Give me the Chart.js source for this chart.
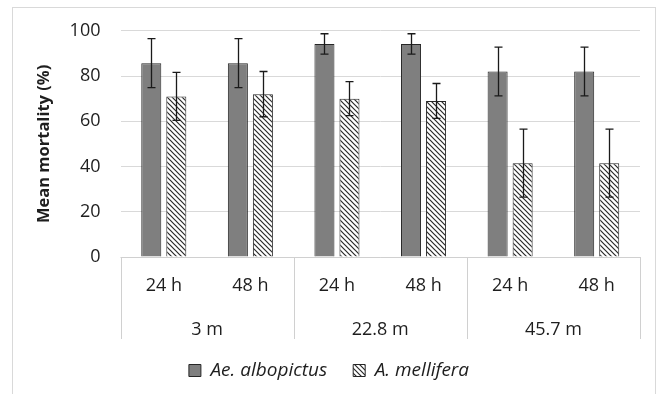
<!DOCTYPE html>
<html>
<head>
<meta charset="utf-8">
<script src="https://cdn.jsdelivr.net/npm/chart.js@4.4.1/dist/chart.umd.min.js"></script>
<style>
  html, body { margin: 0; padding: 0; background: #fff; width: 659px; height: 394px; overflow: hidden; }
  #frame { position: absolute; left: 12px; top: 7px; width: 644px; height: 420px; border: 1px solid #d9d9d9; box-sizing: border-box; }
  #c { position: absolute; left: 0; top: 0; }
</style>
</head>
<body>
<div id="frame"></div>
<canvas id="c" width="659" height="394"></canvas>
<script>
const categories = ['24 h', '48 h', '24 h', '48 h', '24 h', '48 h'];
const groups = ['3 m', '22.8 m', '45.7 m'];
const seriesNames = ['Ae. albopictus', 'A. mellifera'];
const albopictus = [85.7, 85.7, 94.2, 94.2, 82, 82];
const albopictusErr = [10.8, 10.8, 4.5, 4.5, 10.8, 10.8];
const mellifera = [71, 72, 70, 69, 41.5, 41.5];
const melliferaErr = [10.6, 10, 7.5, 7.7, 15, 15];
const yTicks = [0, 20, 40, 60, 80, 100];

const FONT = "'Open Sans', 'DejaVu Sans', sans-serif";
const TEXT = '#1e1e1e';

function hatchPattern() {
  const s = 5;
  const cv = document.createElement('canvas');
  cv.width = s; cv.height = s;
  const g = cv.getContext('2d');
  g.fillStyle = '#fff';
  g.fillRect(0, 0, s, s);
  g.strokeStyle = '#2a2a2a';
  g.lineWidth = 1.2;
  g.beginPath();
  g.moveTo(-1, -1); g.lineTo(s + 1, s + 1);
  g.moveTo(-1, s - 1); g.lineTo(1, s + 1);
  g.moveTo(s - 1, -1); g.lineTo(s + 1, 1);
  g.stroke();
  return g.createPattern(cv, 'repeat');
}

const errors = [albopictusErr, melliferaErr];

const errorBars = {
  id: 'errorBars',
  afterDatasetsDraw(chart) {
    const ctx = chart.ctx;
    const y = chart.scales.y;
    ctx.save();
    ctx.strokeStyle = '#1a1a1a';
    ctx.lineWidth = 1.3;
    chart.data.datasets.forEach((ds, i) => {
      const meta = chart.getDatasetMeta(i);
      meta.data.forEach((el, j) => {
        const v = ds.data[j], e = errors[i][j];
        const x = Math.round(el.x) + 0.5;
        const t = y.getPixelForValue(v + e), b = y.getPixelForValue(v - e);
        ctx.beginPath();
        ctx.moveTo(x, t); ctx.lineTo(x, b);
        ctx.moveTo(x - 4, t); ctx.lineTo(x + 4, t);
        ctx.moveTo(x - 4, b); ctx.lineTo(x + 4, b);
        ctx.stroke();
      });
    });
    ctx.restore();
  }
};

const axisBox = {
  id: 'axisBox',
  afterDraw(chart) {
    const ctx = chart.ctx;
    const a = chart.chartArea;
    const xs = chart.scales.x;
    const bottom = chart.scales.x2.bottom;
    ctx.save();
    ctx.strokeStyle = '#d0d0d0';
    ctx.lineWidth = 1;
    ctx.beginPath();
    ctx.moveTo(a.left, Math.round(a.bottom) + 0.5);
    ctx.lineTo(a.right, Math.round(a.bottom) + 0.5);
    const n = categories.length, per = n / groups.length;
    const xsPos = [a.left];
    for (let g = 1; g < groups.length; g++) {
      xsPos.push((xs.getPixelForValue(g * per - 1) + xs.getPixelForValue(g * per)) / 2);
    }
    xsPos.push(a.right);
    xsPos.forEach(px => {
      const x = Math.round(px) + 0.5;
      ctx.moveTo(x, a.bottom);
      ctx.lineTo(x, bottom);
    });
    ctx.stroke();
    ctx.restore();
  }
};

const legendShift = {
  id: 'legendShift',
  afterLayout(chart) {
    const l = chart.legend;
    if (l) { l.left += 9; l.right += 9; l.top -= 4; l.bottom -= 4; }
  }
};

const pat = hatchPattern();

new Chart(document.getElementById('c'), {
  type: 'bar',
  data: {
    labels: categories,
    datasets: [
      { label: seriesNames[0], data: albopictus, backgroundColor: '#7f7f7f', borderColor: '#262626', borderWidth: 1, barPercentage: 0.8, categoryPercentage: 0.578 },
      { label: seriesNames[1], data: mellifera, backgroundColor: pat, borderColor: '#262626', borderWidth: 1, barPercentage: 0.8, categoryPercentage: 0.578 }
    ]
  },
  options: {
    responsive: false,
    devicePixelRatio: 1,
    animation: false,
    layout: { padding: { left: 0, right: 19, top: 30, bottom: 0 } },
    plugins: {
      tooltip: { enabled: false },
      legend: {
        position: 'bottom',
        labels: {
          boxWidth: 12, boxHeight: 12, padding: 26,
          color: TEXT,
          font: { family: FONT, size: 19, style: 'italic' }
        }
      }
    },
    scales: {
      y: {
        min: 0, max: 100,
        afterBuildTicks(s) { s.ticks = yTicks.map(v => ({ value: v })); },
        afterFit(s) { s.width = 120.5; },
        grid: { color: '#d9d9d9', drawTicks: false, lineWidth: 1 },
        border: { display: false },
        ticks: { padding: 20, color: TEXT, font: { family: FONT, size: 18 } },
        title: { display: true, text: 'Mean mortality (%)', color: TEXT, padding: { top: 34, bottom: 0 }, font: { family: FONT, size: 16.5, weight: 'bold' } }
      },
      x: {
        position: 'bottom',
        afterFit(s) { s.height = 49; },
        grid: { display: false },
        border: { display: false },
        ticks: { padding: 10.5, color: TEXT, maxRotation: 0, autoSkip: false, font: { family: FONT, size: 18 } }
      },
      x2: {
        type: 'category',
        position: 'bottom',
        labels: groups,
        offset: true,
        afterFit(s) { s.height = 33; },
        grid: { display: false },
        border: { display: false },
        ticks: { padding: 5, color: TEXT, maxRotation: 0, autoSkip: false, font: { family: FONT, size: 18 } }
      }
    }
  },
  plugins: [errorBars, axisBox, legendShift]
});
</script>
</body>
</html>
